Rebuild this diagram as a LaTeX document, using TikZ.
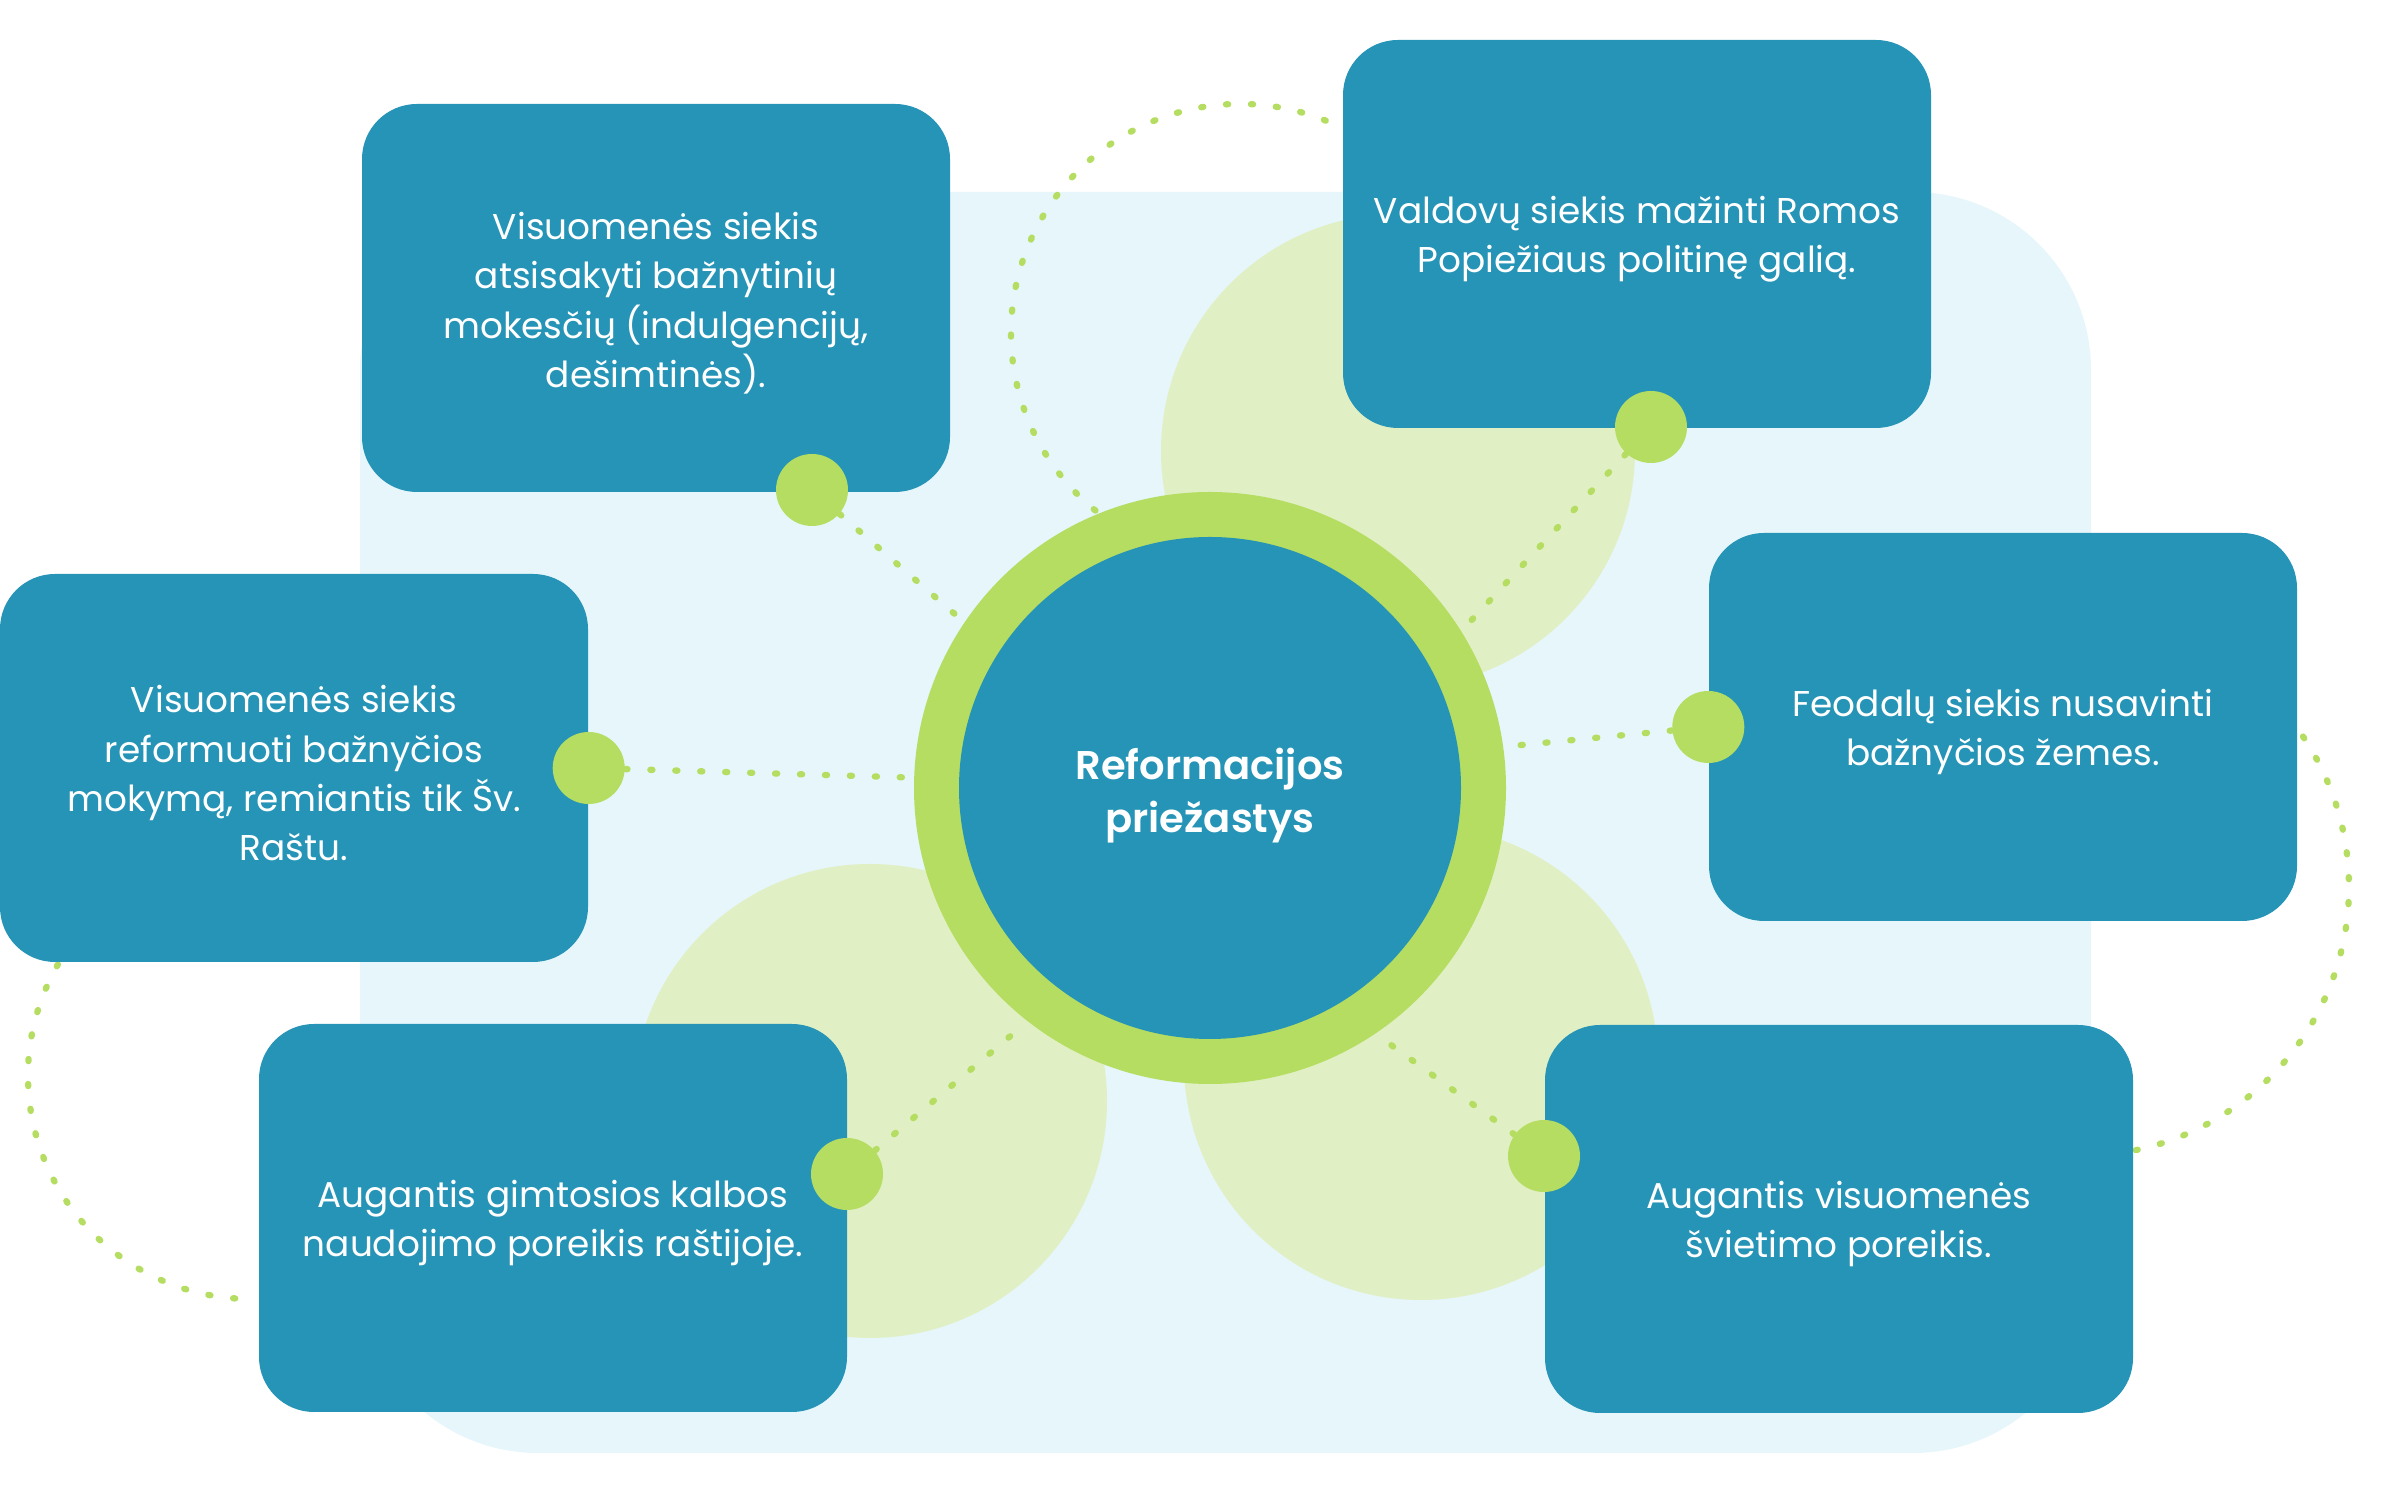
\documentclass[tikz,border=0pt]{standalone}
\usepackage{fontspec}
\setmainfont{Poppins}[BoldFont={Poppins SemiBold}]
\usetikzlibrary{positioning}

\definecolor{boxblue}{RGB}{38,148,182}
\definecolor{ringgreen}{RGB}{181,221,98}
\definecolor{palegreen}{RGB}{225,240,196}
\definecolor{paleblue}{RGB}{230,246,250}

\pgfdeclarelayer{back}
\pgfdeclarelayer{links}
\pgfsetlayers{back,links,main}

\tikzset{
	cause/.style={rectangle, rounded corners=0.55cm, fill=boxblue,
		minimum width=5.88cm, minimum height=3.88cm, inner sep=0pt},
	tag/.style={text=white, align=center, inner sep=0pt, yshift=-1.5pt,
		font=\fontsize{10.2}{14.0}\selectfont},
	knob/.style={circle, fill=ringgreen, minimum size=0.72cm, inner sep=0pt},
	link/.style={ringgreen, line width=1.8pt, line cap=round, dash pattern=on 0.6pt off 6.5pt},
}

\begin{document}
\begin{tikzpicture}
		\useasboundingbox (0,0) rectangle (24.01,15.01);
		\def\outerRadius{2.96cm} % Radius of the green ring
		\def\innerRadius{2.51cm} % Radius of the blue disc
		\def\blobRadius{2.37} % Radius of the pale circles
		
		% Central ring
		\node[circle, fill=ringgreen, minimum size=2*\outerRadius, inner sep=0pt] (ring) at (12.10,7.13) {};
		\node[circle, fill=boxblue, minimum size=2*\innerRadius, inner sep=0pt,
			label={[tag, yshift=-0.7pt, font=\fontsize{11.4}{15.2}\selectfont\bfseries]center:Reformacijos\\priežastys}]
			(hub) at (ring) {};
		
		% Boxes with the causes
		\node[cause, label={[tag]center:Visuomenės siekis\\atsisakyti bažnytinių\\mokesčių (indulgencijų,\\dešimtinės).}] (box1) at (6.56,12.03) {};
		\node[cause, label={[tag]center:Valdovų siekis mažinti Romos\\Popiežiaus politinę galią.}] (box2) at (16.37,12.67) {};
		\node[cause, label={[tag]center:Visuomenės siekis\\reformuoti bažnyčios\\mokymą, remiantis tik Šv.\\Raštu.}] (box3) at (2.94,7.33) {};
		\node[cause, label={[tag]center:Feodalų siekis nusavinti\\bažnyčios žemes.}] (box4) at (20.03,7.74) {};
		\node[cause, label={[tag]center:Augantis gimtosios kalbos\\naudojimo poreikis raštijoje.}] (box5) at (5.53,2.83) {};
		\node[cause, label={[tag]center:Augantis visuomenės\\švietimo poreikis.}] (box6) at (18.39,2.82) {};
		
		% Green knobs on the boxes
		\node[knob] (d1) at (8.12,10.11) {};
		\node[knob] (d2) at (16.51,10.74) {};
		\node[knob] (d3) at (box3.east) {};
		\node[knob] (d4) at (box4.west) {};
		\node[knob] (d5) at (8.47,3.27) {};
		\node[knob] (d6) at (15.44,3.45) {};
		
		\begin{pgfonlayer}{back}
			\fill[paleblue, rounded corners=1.78cm] (3.60,0.48) rectangle (20.91,13.09);
			\fill[palegreen] (13.98,10.50) circle (\blobRadius);
			\fill[palegreen] (14.21,4.38) circle (\blobRadius);
			\fill[palegreen] (8.70,4.00) circle (\blobRadius);
		\end{pgfonlayer}
		
		\begin{pgfonlayer}{links}
			% Dotted links from the knobs to the ring
			\foreach \d/\a in {d1/146, d2/32, d3/178, d4/8, d5/232, d6/304} {
				\draw[link] (\d) -- (ring.\a);
			}
			% Dotted arcs around the picture
			\coordinate (arcTop) at (12.40,11.68);
			\coordinate (arcLeft) at (2.51,4.25);
			\coordinate (arcRight) at (20.80,6.14);
			\draw[link] (arcTop) ++(68:2.29) arc[start angle=68, end angle=231, radius=2.29];
			\draw[link] (arcLeft) ++(150:2.23) arc[start angle=150, end angle=267, radius=2.23];
			\draw[link] (arcRight) ++(34:2.69) arc[start angle=34, end angle=-78, radius=2.69];
		\end{pgfonlayer}
	\end{tikzpicture}
\end{document}
